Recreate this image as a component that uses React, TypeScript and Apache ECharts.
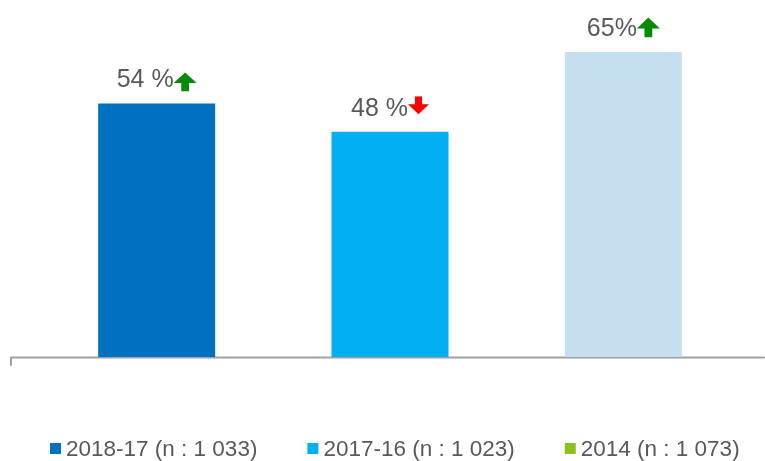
import React, { useEffect, useRef } from "react";
import * as echarts from "echarts";

const categories = ["2018-17", "2017-16", "2014"];
const seriesNames = ["2018-17 (n : 1 033)", "2017-16 (n : 1 023)", "2014 (n : 1 073)"];
const values = [54, 48, 65];
const labels = ["54 %", "48 %", "65%"];
const trends = ["up", "down", "up"];
const barColors = ["#0070C0", "#00B0F0", "#C5DFF1"];
const legendColors = ["#0070C0", "#00B0F0", "#8FC11E"];

// arrow glyph: width, height, vertical offset relative to the text centre
const arrowSizes = [
  { w: 23, h: 19, dy: 4.5 },
  { w: 21, h: 18, dy: -2 },
  { w: 23, h: 20, dy: 0 },
];

function arrowImage(dir: string, w: number, h: number, dy: number) {
  const pad = Math.abs(dy);
  const H = h + 2 * pad;
  const y0 = pad + dy;
  const hx = w / 2;
  const headH = h * 0.55;
  const s1 = w * 0.33;
  const s2 = w * 0.67;
  let d: string;
  let color: string;
  if (dir === "up") {
    d = `M${hx} ${y0} L${w} ${y0 + headH} L${s2} ${y0 + headH} L${s2} ${y0 + h} L${s1} ${y0 + h} L${s1} ${y0 + headH} L0 ${y0 + headH} Z`;
    color = "#078A07";
  } else {
    d = `M${hx} ${y0 + h} L${w} ${y0 + h - headH} L${s2} ${y0 + h - headH} L${s2} ${y0} L${s1} ${y0} L${s1} ${y0 + h - headH} L0 ${y0 + h - headH} Z`;
    color = "#FF0000";
  }
  const svg = `<svg xmlns="http://www.w3.org/2000/svg" width="${w}" height="${H}" viewBox="0 0 ${w} ${H}"><path d="${d}" fill="${color}"/></svg>`;
  return { url: "data:image/svg+xml;charset=utf-8," + encodeURIComponent(svg), w, H };
}

export default function App() {
  const ref = useRef<HTMLDivElement>(null);
  useEffect(() => {
    if (!ref.current) return;
    const chart = echarts.init(ref.current, null, { renderer: "svg" });
    const series = seriesNames.map((name, i) => {
      const a = arrowSizes[i];
      const img = arrowImage(trends[i], a.w, a.h, a.dy);
      return {
        name,
        type: "bar",
        stack: "all",
        barWidth: 117,
        itemStyle: { color: legendColors[i] },
        data: categories.map((_, j) =>
          j === i ? { value: values[i], itemStyle: { color: barColors[i] } } : null
        ),
        label: {
          show: true,
          position: "top",
          distance: 12,
          formatter: () => `{v|${labels[i]}}{a|}`,
          rich: {
            v: { fontSize: 25, color: "#595959", fontFamily: "Liberation Sans, Arial, sans-serif" },
            a: { width: img.w, height: img.H, backgroundColor: { image: img.url } },
          },
        },
      };
    });
    chart.setOption({
      animation: false,
      grid: { left: 40, right: 25, top: 5, bottom: 104 },
      xAxis: {
        type: "category",
        data: categories,
        axisLine: { show: false },
        axisTick: { show: false },
        axisLabel: { show: false },
      },
      yAxis: { type: "value", min: 0, max: 75, show: false, splitLine: { show: false } },
      legend: {
        left: 50,
        top: 437,
        padding: 0,
        itemWidth: 11,
        itemHeight: 11,
        itemGap: 50,
        icon: "rect",
        textStyle: { fontSize: 22.5, color: "#595959", fontFamily: "Liberation Sans, Arial, sans-serif" },
        data: seriesNames,
      },
      graphic: [
        {
          type: "polyline",
          shape: { points: [[11, 365], [11, 357.5], [764, 357.5]] },
          style: { stroke: "#A0A0A0", lineWidth: 2, fill: "none", lineJoin: "round", lineCap: "round" },
          silent: true,
        },
      ],
      series,
    });
    return () => chart.dispose();
  }, []);
  return <div ref={ref} style={{ position: "fixed", left: 0, top: 0, width: 765, height: 461 }} />;
}
